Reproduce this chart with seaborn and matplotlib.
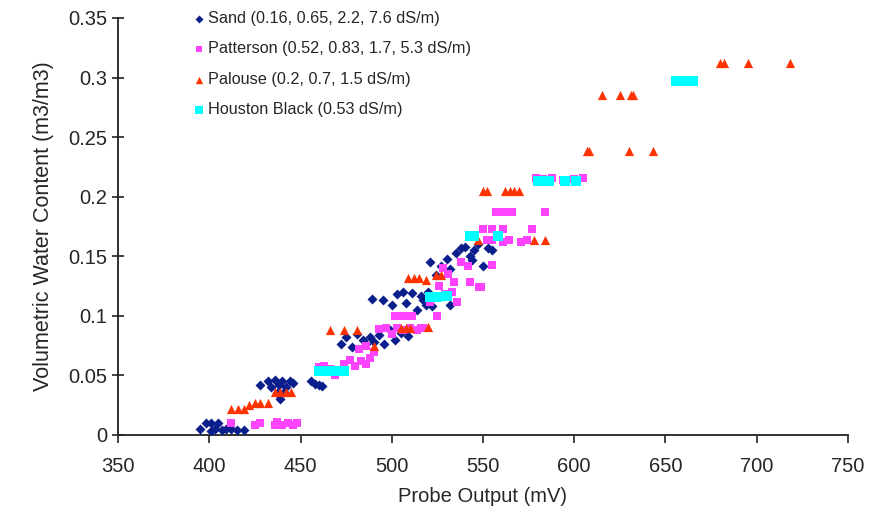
"""
Probe output vs volumetric water content for four soils at several salinities.
"""

import matplotlib
matplotlib.use("Agg")
import matplotlib.pyplot as plt
from matplotlib.ticker import FuncFormatter, MultipleLocator
import numpy as np
import pandas as pd
import seaborn as sns

SOILS = [
    'Sand (0.16, 0.65, 2.2, 7.6 dS/m)',
    'Patterson (0.52, 0.83, 1.7, 5.3 dS/m)',
    'Palouse (0.2, 0.7, 1.5 dS/m)',
    'Houston Black (0.53 dS/m)',
]

# probe output (mV) / volumetric water content (m3/m3)
sand_mv = [395, 398, 401, 403, 405, 407, 409, 412, 415, 419, 401,
           428, 432, 434, 436, 438, 440, 442, 444, 446, 437, 441, 439,
           456, 458, 460, 462,
           472, 475, 478, 481, 484, 486, 488, 490, 493, 496, 499, 502, 505, 509,
           489, 495, 500, 503, 506, 508, 511, 514, 517, 520, 522, 516, 519,
           521, 524, 527, 530, 532, 535, 538, 540, 543, 545, 547, 550, 553, 555, 544, 532]
sand_vwc = [0.005, 0.010, 0.010, 0.005, 0.010, 0.004, 0.005, 0.005, 0.004, 0.004, 0.003,
            0.042, 0.045, 0.040, 0.046, 0.042, 0.045, 0.040, 0.045, 0.044, 0.035, 0.036, 0.030,
            0.045, 0.043, 0.042, 0.041,
            0.076, 0.082, 0.074, 0.085, 0.080, 0.076, 0.082, 0.078, 0.084, 0.076, 0.088, 0.080, 0.086, 0.083,
            0.114, 0.113, 0.109, 0.118, 0.120, 0.111, 0.119, 0.105, 0.113, 0.120, 0.108, 0.117, 0.109,
            0.145, 0.134, 0.142, 0.148, 0.139, 0.153, 0.157, 0.158, 0.150, 0.155, 0.160, 0.142, 0.157, 0.155, 0.147, 0.109]

patterson_mv = [412, 425, 428, 437, 440, 443, 446, 448, 436,
                460, 463, 466, 469, 474, 477, 480, 483, 486, 488,
                482, 486, 490, 493, 497, 500, 503, 506, 510, 514, 517,
                502, 505, 508, 511, 525,
                521, 526, 529, 533, 536, 534, 543, 548, 516,
                528, 531, 538, 542, 549, 555,
                552, 555, 561, 564, 571, 574, 550, 555, 561, 577,
                557, 560, 563, 566, 584,
                579, 583, 588, 594, 600, 605]
patterson_vwc = [0.010, 0.008, 0.010, 0.011, 0.008, 0.010, 0.008, 0.010, 0.008,
                 0.057, 0.058, 0.055, 0.050, 0.060, 0.063, 0.058, 0.062, 0.060, 0.065,
                 0.072, 0.075, 0.070, 0.089, 0.090, 0.085, 0.090, 0.088, 0.090, 0.088, 0.090,
                 0.100, 0.100, 0.100, 0.100, 0.100,
                 0.112, 0.125, 0.118, 0.120, 0.112, 0.128, 0.128, 0.124, 0.090,
                 0.140, 0.135, 0.145, 0.142, 0.124, 0.143,
                 0.164, 0.164, 0.162, 0.164, 0.162, 0.164, 0.173, 0.173, 0.173, 0.173,
                 0.187, 0.187, 0.187, 0.187, 0.187,
                 0.216, 0.215, 0.216, 0.214, 0.215, 0.216]

palouse_mv = [412, 416, 419, 422, 425, 428, 432,
              436, 439, 442, 445,
              466, 474, 481, 490, 505, 508, 510, 520,
              509, 512, 515, 519, 524, 527,
              547, 578, 584,
              550, 552, 562, 565, 567, 570,
              607, 608, 630, 643,
              615, 625, 631, 632,
              680, 682, 695, 718]
palouse_vwc = [0.022, 0.022, 0.022, 0.025, 0.027, 0.027, 0.027,
               0.036, 0.036, 0.036, 0.036,
               0.088, 0.088, 0.088, 0.075, 0.090, 0.090, 0.090, 0.091,
               0.132, 0.132, 0.132, 0.130, 0.134, 0.134,
               0.164, 0.164, 0.164,
               0.205, 0.205, 0.205, 0.205, 0.205, 0.205,
               0.238, 0.238, 0.238, 0.238,
               0.285, 0.285, 0.285, 0.285,
               0.312, 0.312, 0.312, 0.312]

houston_mv = [460, 463, 467, 471, 474,
              521, 523, 525, 530,
              543, 545, 558,
              580, 583, 586, 595, 601,
              656, 659, 662, 665]
houston_vwc = [0.054, 0.054, 0.054, 0.054, 0.054,
               0.116, 0.116, 0.116, 0.117,
               0.167, 0.167, 0.167,
               0.213, 0.213, 0.213, 0.213, 0.213,
               0.297, 0.297, 0.297, 0.297]

COLORS = ['#0B1F8C', '#FF44FF', '#FF3300', '#00FFFF']
MARKERS = ['D', 's', '^', 's']
SIZES = [26, 34, 44, 46]

frames = []
for soil, xs, ys in zip(SOILS,
                        [sand_mv, patterson_mv, palouse_mv, houston_mv],
                        [sand_vwc, patterson_vwc, palouse_vwc, houston_vwc]):
    frames.append(pd.DataFrame({'mv': xs, 'vwc': ys, 'soil': soil}))
df = pd.concat(frames, ignore_index=True)

sns.set_theme(style='white')
plt.rcParams['font.family'] = ['Liberation Sans', 'DejaVu Sans']

fig = plt.figure(figsize=(8.85, 5.13), dpi=100)
ax = fig.add_axes([118 / 885, 78 / 513, 730 / 885, 417 / 513])

for soil, color, marker, size in zip(SOILS, COLORS, MARKERS, SIZES):
    sub = df[df['soil'] == soil]
    sns.scatterplot(data=sub, x='mv', y='vwc', color=color, marker=marker,
                    s=size, linewidth=0, label=soil, ax=ax, zorder=3)

ax.set_xlim(350, 750)
ax.set_ylim(0, 0.35)
ax.xaxis.set_major_locator(MultipleLocator(50))
ax.yaxis.set_major_locator(MultipleLocator(0.05))
ax.yaxis.set_major_formatter(FuncFormatter(lambda v, _: f'{v:g}'))

for side in ['top', 'right']:
    ax.spines[side].set_visible(False)
for side in ['left', 'bottom']:
    ax.spines[side].set_color('#222222')
    ax.spines[side].set_linewidth(1.3)

ax.tick_params(axis='x', direction='out', length=6, width=1.2, color='#222222',
               labelsize=14.5, pad=10, bottom=True)
ax.tick_params(axis='y', direction='inout', length=8, width=1.2, color='#222222',
               labelsize=14.5, pad=4, left=True)

ax.set_xlabel('Probe Output (mV)', fontsize=14.5, labelpad=8)
ax.set_ylabel('Volumetric Water Content (m3/m3)', fontsize=15.5, labelpad=10)

handles, labels = ax.get_legend_handles_labels()
ax.legend(handles, labels, loc='upper left', bbox_to_anchor=(192 / 885, 502 / 513),
          bbox_transform=fig.transFigure, frameon=False, fontsize=11.7,
          handletextpad=0.1, handlelength=0.9, labelspacing=0.95, markerscale=0.8,
          borderpad=0, borderaxespad=0)

plt.savefig('out.png', dpi=100)
plt.close()
